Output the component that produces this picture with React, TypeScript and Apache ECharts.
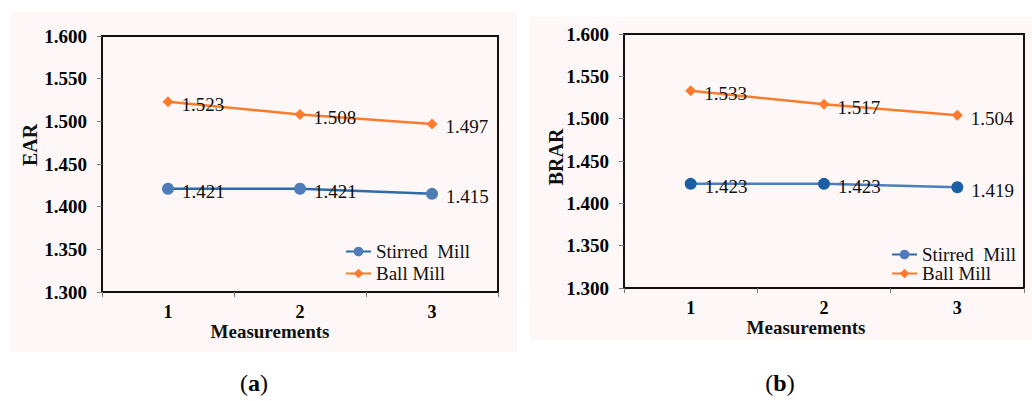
import React, { useEffect, useRef } from "react";
import * as echarts from "echarts";

const categories = ["1", "2", "3"];
const earStirred = [1.421, 1.421, 1.415];
const earBall = [1.523, 1.508, 1.497];
const brarStirred = [1.423, 1.423, 1.419];
const brarBall = [1.533, 1.517, 1.504];
const seriesNames = ["Stirred  Mill", "Ball Mill"];
const yMin = 1.3;
const yMax = 1.6;
const yStep = 0.05;

const SERIF = "Liberation Serif";
const ORANGE = "#fd7b2c";

export default function App() {
  const ref = useRef<HTMLDivElement>(null);
  useEffect(() => {
    if (!ref.current) return;
    const chart = echarts.init(ref.current, null, { renderer: "svg" });

    const grids = [
      { left: 102, top: 36, width: 396, height: 256 },
      { left: 624, top: 34, width: 400, height: 254 },
    ];

    const mkX = (gi: number) => ({
      type: "category",
      gridIndex: gi,
      data: categories,
      boundaryGap: true,
      axisLine: { show: true, lineStyle: { color: "#111", width: 2 } },
      axisTick: { show: true, alignWithLabel: false, length: 5, lineStyle: { color: "#777", width: 1 } },
      axisLabel: { margin: 11, fontFamily: SERIF, fontWeight: "bold", fontSize: 18, lineHeight: 17, color: "#000" },
      splitLine: { show: false },
    });
    const mkY = (gi: number) => ({
      type: "value",
      gridIndex: gi,
      min: yMin,
      max: yMax,
      interval: yStep,
      axisLine: { show: true, lineStyle: { color: "#111", width: 2 } },
      axisTick: { show: true, length: 5, lineStyle: { color: "#777", width: 1 } },
      axisLabel: {
        margin: 15,
        fontFamily: SERIF,
        fontWeight: "bold",
        fontSize: 19,
        color: "#000",
        formatter: (v: number) => v.toFixed(3),
      },
      splitLine: { show: false },
    });

    const label = {
      show: true,
      position: "right",
      distance: 8,
      offset: [0, 3],
      fontFamily: SERIF,
      fontSize: 19,
      color: "#111",
      formatter: (p: any) => Number(p.value).toFixed(3),
    };

    const mkSeries = (gi: number, name: string, data: number[], isBall: boolean, markerColor: string, lineColor: string) => ({
      type: "line",
      name,
      xAxisIndex: gi,
      yAxisIndex: gi,
      data,
      symbol: isBall ? "diamond" : "circle",
      symbolSize: isBall ? 11 : 12,
      itemStyle: { color: markerColor },
      lineStyle: { color: lineColor, width: 2.5 },
      label,
      z: isBall ? 3 : 2,
    });

    const legendText = { fontFamily: SERIF, fontSize: 19, color: "#111", lineHeight: 19 };

    const axisTitle = (text: string, x: number, y: number, size: number, rot = 0) => ({
      type: "text",
      x,
      y,
      rotation: rot,
      style: { text, fontFamily: SERIF, fontWeight: "bold", fontSize: size, fill: "#111", align: "center", verticalAlign: "middle" },
    });

    const caption = (letter: string, x: number, y: number) => ({
      type: "text",
      x,
      y,
      style: {
        text: "{p|(}{b|" + letter + "}{p|)}",
        align: "center",
        verticalAlign: "middle",
        rich: {
          p: { fontFamily: SERIF, fontSize: 24, fill: "#000" },
          b: { fontFamily: SERIF, fontSize: 24, fontWeight: "bold", fill: "#000" },
        },
      },
    });

    chart.setOption({
      animation: false,
      grid: grids.map((g) => ({
        ...g,
        show: true,
        borderColor: "#111",
        borderWidth: 2,
        backgroundColor: "transparent",
        containLabel: false,
      })),
      xAxis: [mkX(0), mkX(1)],
      yAxis: [mkY(0), mkY(1)],
      legend: [
        {
          orient: "vertical",
          left: 340,
          top: 237,
          itemWidth: 25,
          itemHeight: 12,
          itemGap: 3,
          textStyle: legendText,
          data: seriesNames,
          selectedMode: false,
        },
        {
          orient: "vertical",
          left: 886,
          top: 240,
          itemWidth: 25,
          itemHeight: 12,
          itemGap: 0,
          textStyle: legendText,
          data: seriesNames,
          selectedMode: false,
        },
      ],
      series: [
        mkSeries(0, seriesNames[0], earStirred, false, "#4f7bb6", "#2d69ab"),
        mkSeries(0, seriesNames[1], earBall, true, ORANGE, ORANGE),
        mkSeries(1, seriesNames[0], brarStirred, false, "#1a5ea6", "#4a7fbb"),
        mkSeries(1, seriesNames[1], brarBall, true, ORANGE, ORANGE),
      ],
      graphic: [
        { type: "rect", z: -100, silent: true, shape: { x: 10, y: 12, width: 507, height: 340 }, style: { fill: "#fdf8f7" } },
        { type: "rect", z: -100, silent: true, shape: { x: 530, y: 17, width: 502, height: 323 }, style: { fill: "#fdf8f7" } },
        axisTitle("Measurements", 270, 331, 19),
        axisTitle("Measurements", 806, 327, 19),
        axisTitle("EAR", 30, 145, 20, Math.PI / 2),
        axisTitle("BRAR", 556, 157, 20, Math.PI / 2),
        caption("a", 254, 383),
        caption("b", 780, 383),
      ],
    });
    return () => chart.dispose();
  }, []);

  return (
    <div
      ref={ref}
      style={{ position: "fixed", left: 0, top: 0, width: 1032, height: 401, background: "#fff" }}
    />
  );
}
